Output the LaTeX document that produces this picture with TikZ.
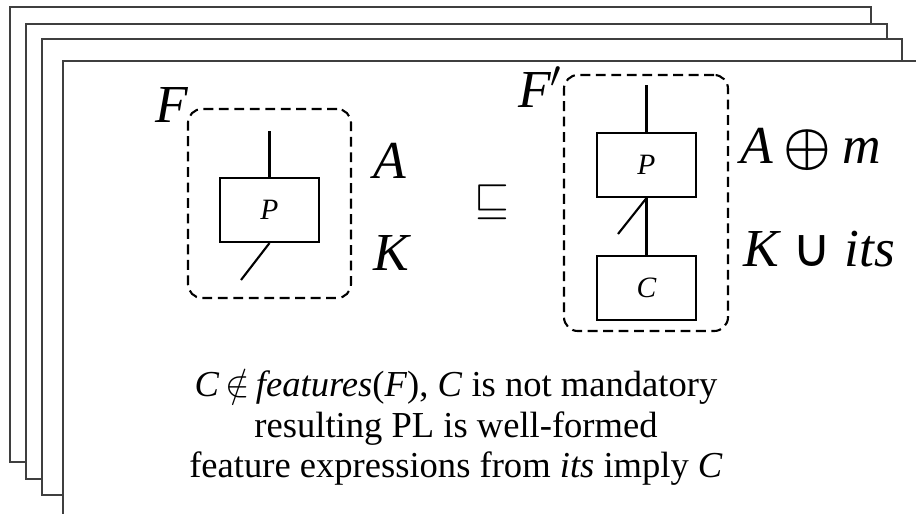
\RequirePackage{fix-cm}
\documentclass[tikz,border=0pt]{standalone}
\usepackage{fontspec}
\setmainfont{Liberation Serif}
\newfontfamily\opfont{DejaVu Sans}
\usetikzlibrary{positioning}
\definecolor{sheetgray}{HTML}{3F3F3F}

\begin{document}
\begin{tikzpicture}[x=0.025cm,y=-0.025cm,
    s/.style={draw=sheetgray,line width=1.6pt,fill=white},
    b/.style={draw,line width=1.5pt,minimum width=2.475cm,minimum height=1.6cm,
      inner sep=0pt,font=\fontsize{21}{25}\selectfont\itshape},
    d/.style={draw,dash pattern=on 7pt off 4pt,line width=1.5pt,
      rounded corners=0.35cm,inner sep=0pt},
    l/.style={inner sep=0pt,anchor=base west,font=\fontsize{38}{46}\selectfont\itshape},
    w/.style={line width=1.5pt}]
  \useasboundingbox (0,0) rectangle (916,514);
  \draw[s] (10,7) rectangle (871,462);
  \draw[s] (26,24) rectangle (887,479);
  \draw[s] (42,39) rectangle (902,495);
  \fill[white] (63,61) rectangle (916,514);
  \draw[s] (63,514) -- (63,61) -- (916,61);

  \node[d,minimum width=4.075cm,minimum height=4.725cm] (f) at (269.5,203.5) {};
  \node[b] (p) at (269.5,210) {P};
  \coordinate (pt) at (269.5,131);
  \coordinate (pb) at (241,280);
  \draw[w] (pt) -- (p.north);
  \draw[w] (p.south) -- (pb);
  \node[l] (fl) at (155,122) {F};
  \node[l] (a) at (373,178) {A};
  \node[l] (k) at (373,270) {K};

  \node[font=\fontsize{32}{38}\selectfont] (sq) at (492,202) {$\sqsubseteq$};

  \node[d,minimum width=4.1cm,minimum height=6.4cm] (g) at (646,203) {};
  \node[b] (q) at (646.5,165) {P};
  \node[b,below=1.425cm of q] (c) {C};
  \coordinate (qt) at (646.5,85);
  \coordinate (qb) at (618,234);
  \draw[w] (qt) -- (q.north);
  \draw[w] (q.south) -- (c.north);
  \draw[w] (q.south) -- (qb);
  \node[l] (fq) at (518,107) {F$'$};
  \node[l] (am) at (740,163) {A\hspace{0.2em}{\boldmath$\oplus$}\hspace{0.2em}m};
  \node[l] (ki) at (743,266) {K {\upshape\opfont\fontsize{38}{46}\selectfont ∪} its};

  \node[align=center,anchor=base,inner sep=0pt,font=\fontsize{26}{28.45}\selectfont] (t)
    at (456,477) {\textit{C}\,$\notin$\,\textit{features}(\textit{F}), \textit{C} is not mandatory\\
    resulting PL is well-formed\\
    feature expressions from \textit{its} imply \textit{C}};
\end{tikzpicture}
\end{document}
